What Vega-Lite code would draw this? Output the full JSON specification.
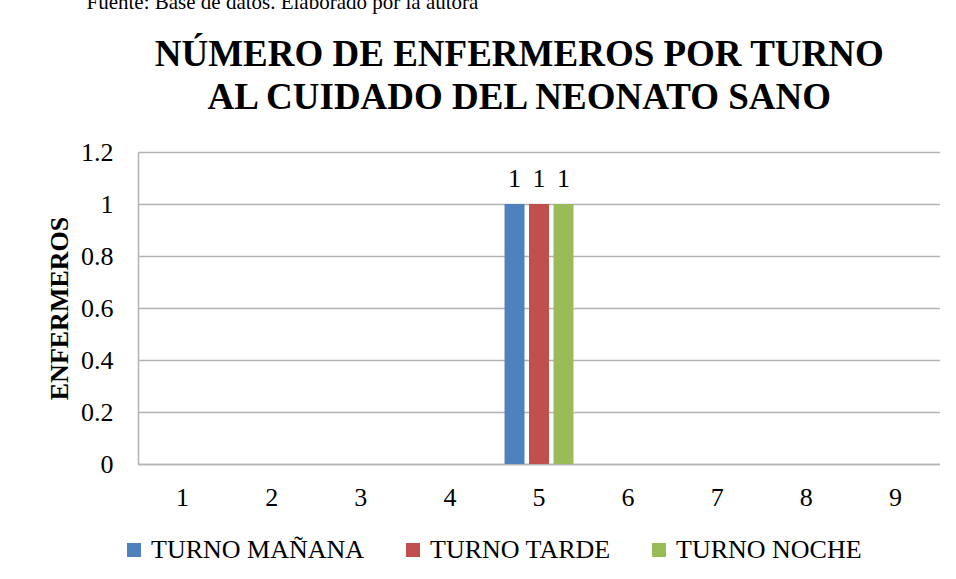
{
  "$schema": "https://vega.github.io/schema/vega-lite/v6.json",
  "background": "white",
  "padding": {"left": 46, "top": -8, "right": 0, "bottom": 0},
  "title": {
    "text": "Fuente: Base de datos. Elaborado por la autora",
    "anchor": "start",
    "frame": "bounds",
    "font": "Liberation Serif",
    "fontSize": 21,
    "fontWeight": "normal",
    "color": "black",
    "dx": 40,
    "offset": 23
  },
  "vconcat": [
    {
      "width": 802,
      "height": 312,
      "title": {
        "text": ["NÚMERO DE ENFERMEROS POR TURNO", "AL CUIDADO DEL NEONATO SANO"],
        "anchor": "middle",
        "frame": "bounds",
        "font": "Liberation Serif",
        "fontSize": 37,
        "fontWeight": "bold",
        "color": "black",
        "lineHeight": 43,
        "dx": 26,
        "offset": 22
      },
      "data": {
        "values": [
          {"categoria": 5, "turno": "TURNO MAÑANA", "enfermeros": 1},
          {"categoria": 5, "turno": "TURNO TARDE", "enfermeros": 1},
          {"categoria": 5, "turno": "TURNO NOCHE", "enfermeros": 1}
        ]
      },
      "encoding": {
        "x": {
          "field": "categoria",
          "type": "ordinal",
          "scale": {"domain": [1, 2, 3, 4, 5, 6, 7, 8, 9], "paddingInner": 0, "paddingOuter": 0},
          "axis": {
            "title": null,
            "labelAngle": 0,
            "labelFont": "Liberation Serif",
            "labelFontSize": 26,
            "labelColor": "black",
            "labelPadding": 20,
            "ticks": false,
            "domainColor": "#b3b3b3",
            "domainWidth": 1.5,
            "grid": false
          }
        },
        "xOffset": {
          "field": "turno",
          "type": "nominal",
          "sort": ["TURNO MAÑANA", "TURNO TARDE", "TURNO NOCHE"],
          "scale": {"paddingInner": 0.184, "paddingOuter": 0.412}
        },
        "y": {
          "field": "enfermeros",
          "type": "quantitative",
          "scale": {"domain": [0, 1.2], "nice": false},
          "axis": {
            "title": "ENFERMEROS",
            "titleFont": "Liberation Serif",
            "titleFontSize": 26,
            "titleFontWeight": "bold",
            "titleColor": "black",
            "titlePadding": 8,
            "values": [0, 0.2, 0.4, 0.6, 0.8, 1, 1.2],
            "format": "~g",
            "labelFont": "Liberation Serif",
            "labelFontSize": 26,
            "labelColor": "black",
            "labelPadding": 25,
            "ticks": false,
            "domainColor": "#b3b3b3",
            "domainWidth": 1.5,
            "gridColor": "#b3b3b3",
            "gridWidth": 1.5
          }
        }
      },
      "layer": [
        {
          "mark": {"type": "bar"},
          "encoding": {
            "color": {
              "field": "turno",
              "type": "nominal",
              "sort": ["TURNO MAÑANA", "TURNO TARDE", "TURNO NOCHE"],
              "scale": {
                "domain": ["TURNO MAÑANA", "TURNO TARDE", "TURNO NOCHE"],
                "range": ["#4F81BD", "#C0504D", "#9BBB59"]
              },
              "legend": {
                "title": null,
                "orient": "none",
                "legendX": -17,
                "legendY": 385,
                "direction": "horizontal",
                "symbolType": "square",
                "symbolSize": 196,
                "symbolStrokeWidth": 0,
                "symbolOpacity": 1,
                "labelFont": "Liberation Serif",
                "labelFontSize": 26,
                "labelColor": "black",
                "labelOffset": 4,
                "columnPadding": 35,
                "labelLimit": 400
              }
            }
          }
        },
        {
          "mark": {
            "type": "text",
            "baseline": "bottom",
            "dy": -12,
            "font": "Liberation Serif",
            "fontSize": 26,
            "color": "black"
          },
          "encoding": {
            "text": {"field": "enfermeros", "type": "quantitative", "format": "~g"}
          }
        }
      ]
    }
  ],
  "config": {
    "view": {"stroke": null},
    "title": {"font": "Liberation Serif"}
  }
}
